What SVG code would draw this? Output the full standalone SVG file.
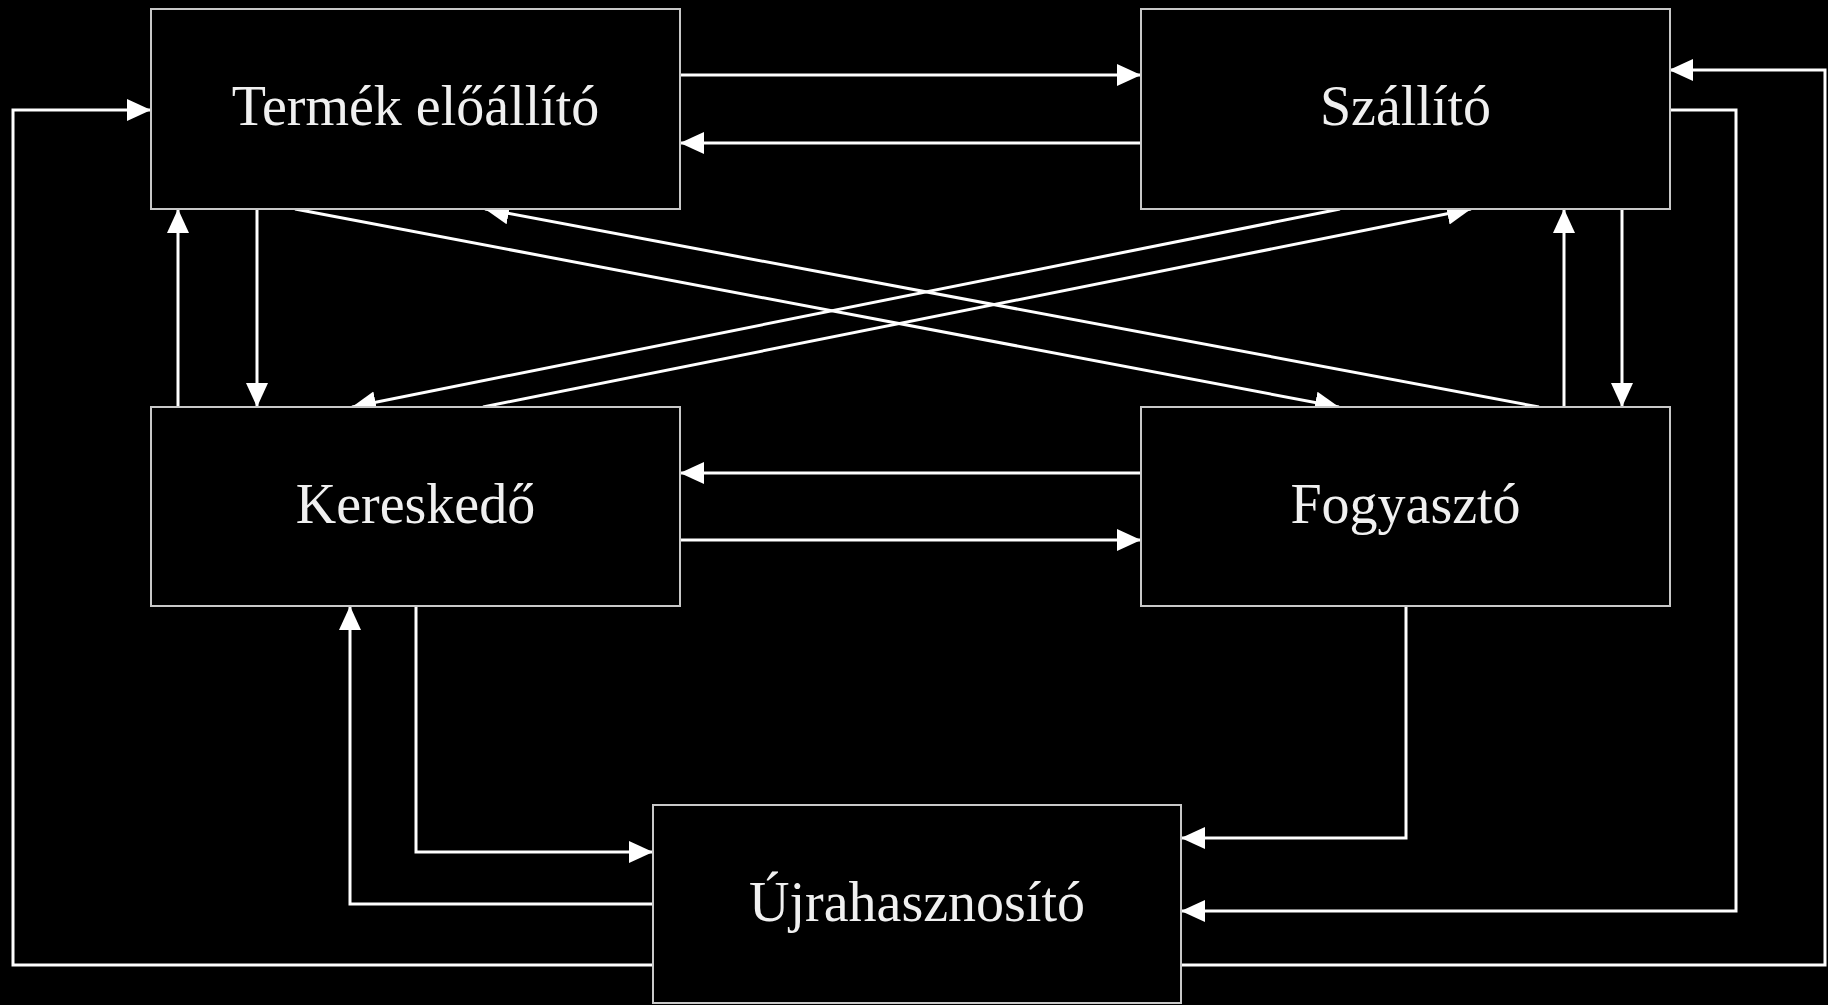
<svg xmlns="http://www.w3.org/2000/svg" width="1828" height="1005" viewBox="0 0 1828 1005">
<style>
.box{fill:#000;stroke:#c8c8c8;stroke-width:2}
.lbl{font-family:"Liberation Serif","Times New Roman",serif;font-size:56px;fill:#f0f0f0;text-anchor:middle}
.c{fill:none;stroke:#fff;stroke-width:3}
</style>
<defs>
<marker id="ah" markerUnits="userSpaceOnUse" markerWidth="25" markerHeight="23" refX="24" refY="11" orient="auto">
<path d="M0,0 L24,11 L0,22 z" fill="#fff"/>
</marker>
</defs>
<rect x="0" y="0" width="1828" height="1005" fill="#000"/>
<g id="connectors">
<line class="c" x1="680" y1="75" x2="1141" y2="75" marker-end="url(#ah)"/>
<line class="c" x1="1141" y1="143" x2="680" y2="143" marker-end="url(#ah)"/>
<path class="c" d="M653,965 H13 V110 H151" marker-end="url(#ah)"/>
<line class="c" x1="257" y1="209" x2="257" y2="407" marker-end="url(#ah)"/>
<line class="c" x1="178" y1="407" x2="178" y2="209" marker-end="url(#ah)"/>
<line class="c" x1="295" y1="209" x2="1339" y2="407" marker-end="url(#ah)"/>
<line class="c" x1="1539" y1="407" x2="485" y2="209" marker-end="url(#ah)"/>
<line class="c" x1="1340" y1="209" x2="352" y2="407" marker-end="url(#ah)"/>
<line class="c" x1="483" y1="407" x2="1471" y2="209" marker-end="url(#ah)"/>
<line class="c" x1="1564" y1="407" x2="1564" y2="209" marker-end="url(#ah)"/>
<line class="c" x1="1622" y1="209" x2="1622" y2="407" marker-end="url(#ah)"/>
<line class="c" x1="1141" y1="473" x2="680" y2="473" marker-end="url(#ah)"/>
<line class="c" x1="680" y1="540" x2="1141" y2="540" marker-end="url(#ah)"/>
<path class="c" d="M416,606 V852 H653" marker-end="url(#ah)"/>
<path class="c" d="M653,904 H350 V606" marker-end="url(#ah)"/>
<path class="c" d="M1406,606 V838 H1181" marker-end="url(#ah)"/>
<path class="c" d="M1669,110 H1736 V911 H1181" marker-end="url(#ah)"/>
<path class="c" d="M1181,965 H1825 V70 H1669" marker-end="url(#ah)"/>
</g>
<g id="node-termek">
<rect class="box" x="151" y="9" width="529" height="200"/>
<text class="lbl" x="415.5" y="125">Termék előállító</text>
</g>
<g id="node-szallito">
<rect class="box" x="1141" y="9" width="529" height="200"/>
<text class="lbl" x="1405.5" y="125">Szállító</text>
</g>
<g id="node-kereskedo">
<rect class="box" x="151" y="407" width="529" height="199"/>
<text class="lbl" x="415.5" y="523">Kereskedő</text>
</g>
<g id="node-fogyaszto">
<rect class="box" x="1141" y="407" width="529" height="199"/>
<text class="lbl" x="1405.5" y="523">Fogyasztó</text>
</g>
<g id="node-ujrahasznosito">
<rect class="box" x="653" y="805" width="528" height="198"/>
<text class="lbl" x="917" y="921">Újrahasznosító</text>
</g>
</svg>
